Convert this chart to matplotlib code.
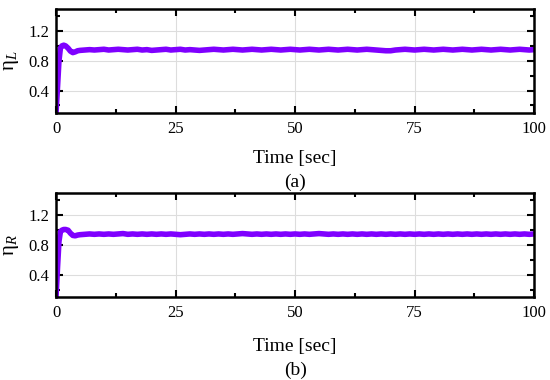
import matplotlib
matplotlib.use("Agg")
import matplotlib.pyplot as plt
from matplotlib.ticker import MultipleLocator

plt.rcParams['font.family'] = ['Liberation Serif', 'DejaVu Serif']
plt.rcParams['mathtext.fontset'] = 'custom'
plt.rcParams['mathtext.rm'] = 'Liberation Serif'
plt.rcParams['mathtext.it'] = 'Liberation Serif:italic'

time = [0, 0.3, 0.6, 0.9, 1.2, 1.6, 2.0, 2.5, 3.0, 3.5, 4.0, 4.5, 5,
        6, 7, 8, 9, 10, 11, 12, 13, 14, 15, 16, 17, 18, 19, 20,
        21, 22, 23, 24, 25, 26, 27, 28, 29, 30, 31, 32, 33, 34, 35,
        36, 37, 38, 39, 40, 41, 42, 43, 44, 45, 46, 47, 48, 49, 50,
        51, 52, 53, 54, 55, 56, 57, 58, 59, 60, 61, 62, 63, 64, 65,
        66, 67, 68, 69, 70, 71, 72, 73, 74, 75, 76, 77, 78, 79, 80,
        81, 82, 83, 84, 85, 86, 87, 88, 89, 90, 91, 92, 93, 94, 95,
        96, 97, 98, 99, 100]

eta_L = [0.12, 0.45, 0.80, 0.97, 1.00, 1.01, 1.00, 0.97, 0.93, 0.91, 0.92, 0.935, 0.94,
         0.945, 0.95, 0.945, 0.95, 0.955, 0.945, 0.95, 0.955, 0.95, 0.945, 0.95, 0.955, 0.945, 0.95, 0.94,
         0.945, 0.95, 0.955, 0.945, 0.95, 0.955, 0.945, 0.95, 0.945, 0.94, 0.945, 0.95, 0.955, 0.95, 0.945,
         0.95, 0.955, 0.95, 0.945, 0.95, 0.955, 0.95, 0.945, 0.95, 0.955, 0.95, 0.945, 0.95, 0.955, 0.95,
         0.945, 0.95, 0.955, 0.95, 0.945, 0.95, 0.955, 0.95, 0.945, 0.95, 0.955, 0.95, 0.945, 0.95, 0.955,
         0.95, 0.945, 0.94, 0.935, 0.935, 0.945, 0.95, 0.955, 0.95, 0.945, 0.95, 0.955, 0.95, 0.945, 0.95,
         0.955, 0.95, 0.945, 0.95, 0.955, 0.95, 0.945, 0.95, 0.955, 0.95, 0.945, 0.95, 0.955, 0.95, 0.945,
         0.95, 0.955, 0.95, 0.945, 0.95]

eta_R = [0.12, 0.50, 0.85, 0.98, 1.00, 1.01, 1.01, 1.00, 0.96, 0.93, 0.925, 0.935, 0.94,
         0.945, 0.95, 0.945, 0.95, 0.945, 0.95, 0.945, 0.95, 0.955, 0.945, 0.95, 0.945, 0.95, 0.945, 0.95,
         0.945, 0.95, 0.945, 0.95, 0.945, 0.94, 0.945, 0.95, 0.945, 0.95, 0.945, 0.95, 0.945, 0.95, 0.945,
         0.95, 0.945, 0.95, 0.955, 0.95, 0.945, 0.95, 0.945, 0.95, 0.945, 0.95, 0.945, 0.95, 0.945, 0.95,
         0.945, 0.95, 0.945, 0.95, 0.955, 0.95, 0.945, 0.95, 0.945, 0.95, 0.945, 0.95, 0.945, 0.95, 0.945,
         0.95, 0.945, 0.95, 0.945, 0.95, 0.945, 0.95, 0.945, 0.95, 0.945, 0.95, 0.945, 0.95, 0.945, 0.95,
         0.945, 0.95, 0.945, 0.95, 0.945, 0.95, 0.945, 0.95, 0.945, 0.95, 0.945, 0.95, 0.945, 0.95, 0.945,
         0.95, 0.945, 0.95, 0.945, 0.95]

x_ticks = [0, 25, 50, 75, 100]
y_ticks = [0.4, 0.8, 1.2]

fig = plt.figure(figsize=(5.5, 3.8), dpi=100)
ax1 = fig.add_axes([0.102, 0.703, 0.869, 0.274])
ax2 = fig.add_axes([0.102, 0.218, 0.869, 0.274])

color = '#7F00FF'
panels = [(ax1, eta_L, r'$\mathrm{\eta}_{L}$', '(a)', 0.584, 0.521),
          (ax2, eta_R, r'$\mathrm{\eta}_{R}$', '(b)', 0.089, 0.026)]
for ax, y, lab, sub, ylab_t, ylab_s in panels:
    ax.plot(time, y, color=color, lw=4.0, solid_joinstyle='round')
    ax.set_xlim(0, 100)
    ax.set_ylim(0.1, 1.5)
    ax.set_xticks(x_ticks)
    ax.set_yticks(y_ticks)
    ax.xaxis.set_minor_locator(MultipleLocator(12.5))
    ax.yaxis.set_minor_locator(MultipleLocator(0.2))
    ax.tick_params(which='both', direction='in', top=True, right=True, labelsize=12, width=1.5)
    ax.tick_params(axis='x', which='major', pad=6)
    ax.tick_params(axis='y', which='major', pad=5)
    ax.tick_params(which='major', length=5)
    ax.tick_params(which='minor', length=3)
    ax.grid(True, which='major', color='#dddddd', lw=0.8)
    ax.set_axisbelow(True)
    for s in ax.spines.values():
        s.set_linewidth(1.8)
    ax.set_ylabel(lab, fontsize=15, labelpad=5)
    fig.text(0.5 * (0.102 + 0.971), ylab_t, 'Time [sec]', fontsize=14, ha='center', va='center')
    fig.text(0.5 * (0.102 + 0.971), ylab_s, sub, fontsize=14, ha='center', va='center')

fig.savefig('out.png', dpi=100)
